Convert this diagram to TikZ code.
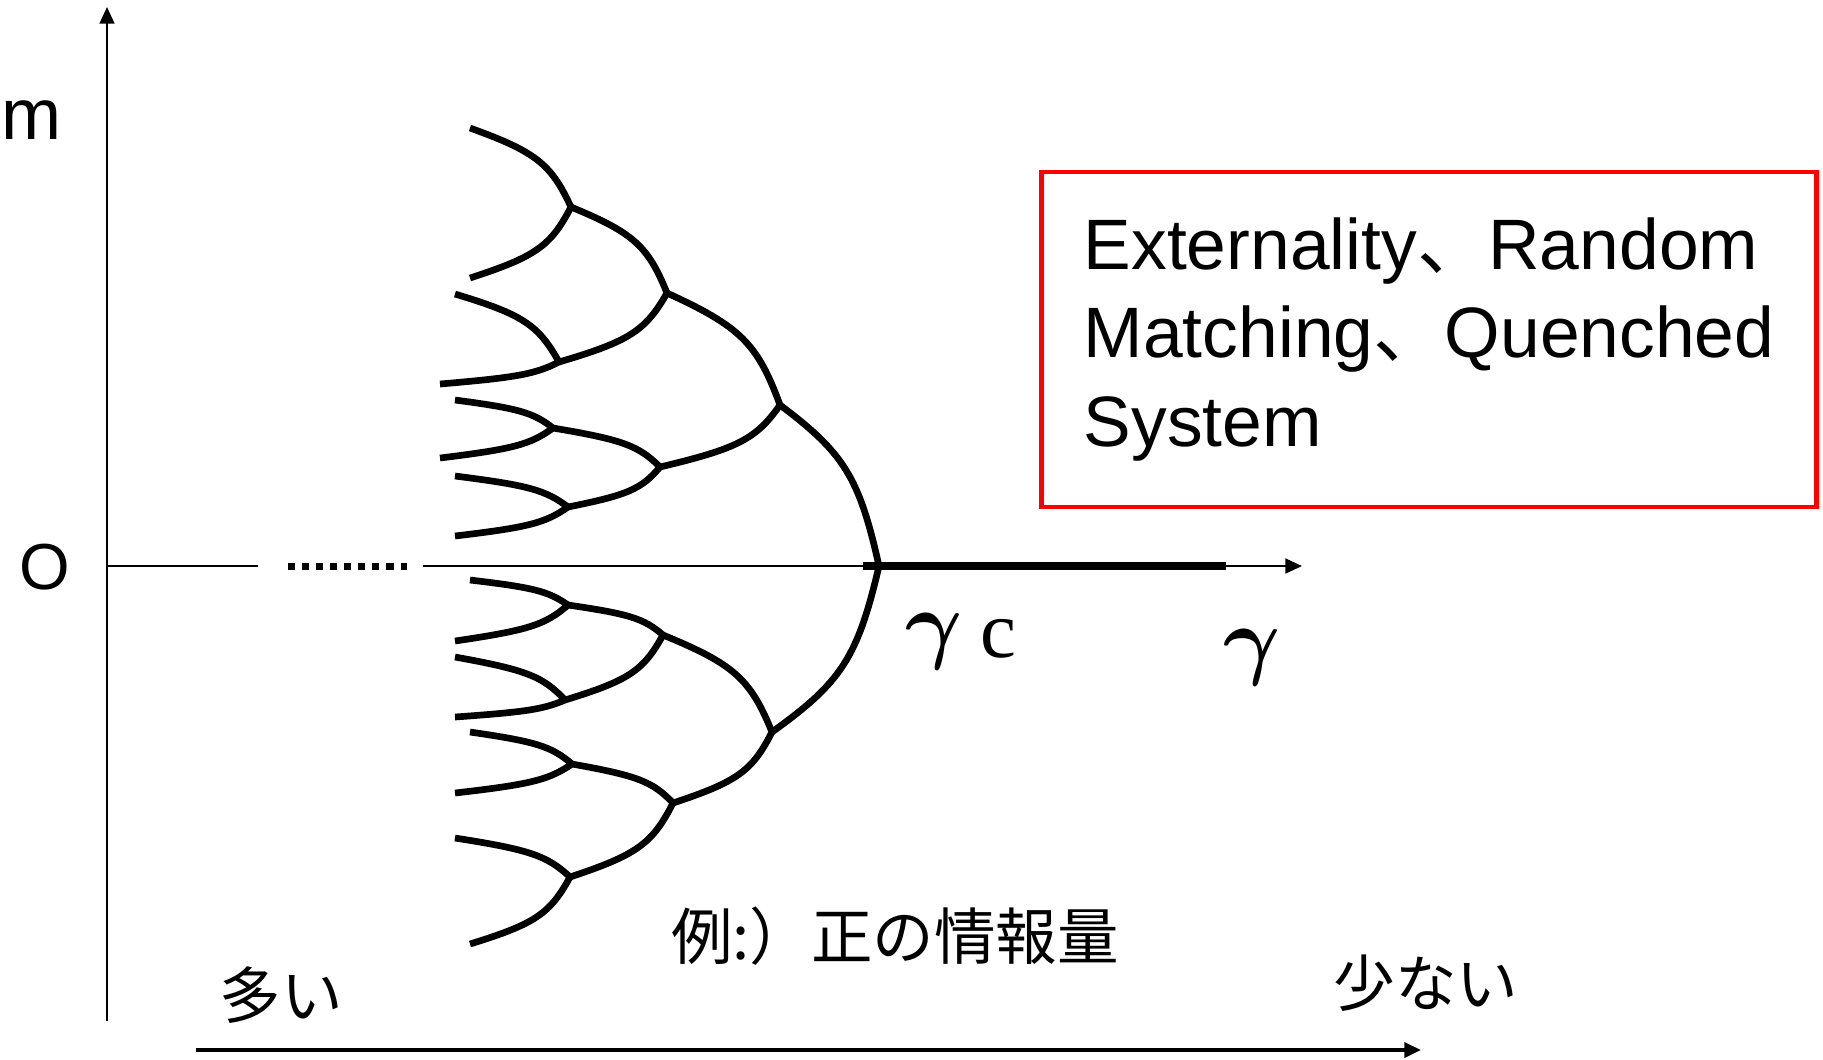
\documentclass[tikz,border=0pt]{standalone}
\usepackage{fontspec}
\setmainfont{Liberation Sans}
\newfontfamily\jpfont{Noto Sans CJK JP}
\newfontfamily\greekfont{Liberation Serif}
\usetikzlibrary{arrows.meta,calc}
\definecolor{boxRed}{RGB}{255,0,0}

\begin{document}
\begin{tikzpicture}[x=0.01cm,y=0.01cm,>={Triangle[length=4.7pt,width=4.2pt]},
 axisline/.style={line width=0.55pt},
 branch/.style={line width=1.9pt,to path={let \p1=(\tikztostart),\p2=(\tikztotarget) in
   .. controls ({\x1+0.65*(\x2-\x1)},{\y1+0.3*(\y2-\y1)}) and ({\x2-0.2*(\x2-\x1)},{\y2-0.55*(\y2-\y1)}) .. (\tikztotarget)}},
 axislabel/.style={inner sep=0pt,font=\fontsize{20.5pt}{24pt}\selectfont},
 greek/.style={inner sep=0pt,font=\fontsize{28pt}{30pt}\selectfont\boldmath},
 jp/.style={inner sep=0pt,font=\jpfont\fontsize{17.5pt}{21pt}\selectfont}]
\useasboundingbox (0,0) rectangle (1823,-1059);
% axes
\coordinate (origin) at (107,-566);
\coordinate (ytop) at (107,-7);
\coordinate (ybot) at (107,-1021);
\coordinate (xgap) at (258,-566);
\coordinate (dotl) at (288,-566);
\coordinate (dotr) at (407,-566);
\coordinate (xstart) at (423,-566);
\coordinate (xtip) at (1302,-566);
\coordinate (crit) at (863,-566);
\coordinate (gend) at (1226,-566);
\coordinate (infl) at (196,-1050);
\coordinate (infr) at (1421,-1050);
\draw[axisline,->] (ybot) -- (ytop);
\draw[axisline] (origin) -- (xgap);
\draw[line width=2pt,dash pattern=on 2pt off 2pt] (dotl) -- (dotr);
\draw[axisline,->] (xstart) -- (xtip);
\draw[line width=2.4pt] (crit) -- (gend);
\draw[line width=1.1pt,->] (infl) -- (infr);
\node[axislabel] (mlab) at (32,-120) {m};
\node[inner sep=0pt,font=\fontsize{18.5pt}{22pt}\selectfont] (olab) at (45,-567) {O};
\node[greek] (gammac) at (934,-642) {$\gamma$};
\node[inner sep=0pt,font=\greekfont\fontsize{23pt}{26pt}\selectfont,anchor=base west] (csub) at (980,-657) {c};
\node[greek] (gamma) at (1252,-658) {$\gamma$};
% tree
\coordinate (root) at (879,-566);
\coordinate (u) at (780,-405);
\coordinate (d) at (772,-732);
\coordinate (uu) at (667,-293);
\coordinate (ud) at (660,-467);
\coordinate (du) at (663,-635);
\coordinate (dd) at (673,-803);
\coordinate (uuu) at (571,-207);
\coordinate (uud) at (559,-362);
\coordinate (udu) at (553,-428);
\coordinate (udd) at (568,-507);
\coordinate (duu) at (568,-605);
\coordinate (dud) at (565,-700);
\coordinate (ddu) at (572,-764);
\coordinate (ddd) at (570,-877);
\coordinate (uuuu) at (470,-128);
\coordinate (uuud) at (470,-278);
\coordinate (uudu) at (455,-294);
\coordinate (uudd) at (440,-384);
\coordinate (uduu) at (455,-400);
\coordinate (udud) at (440,-458);
\coordinate (uddu) at (455,-476);
\coordinate (uddd) at (455,-536);
\coordinate (duuu) at (470,-580);
\coordinate (duud) at (455,-641);
\coordinate (dudu) at (455,-657);
\coordinate (dudd) at (455,-717);
\coordinate (dduu) at (470,-732);
\coordinate (ddud) at (455,-793);
\coordinate (dddu) at (455,-838);
\coordinate (dddd) at (470,-944);
\draw[branch] (u) to (root) (d) to (root);
\draw[branch] (uu) to (u) (ud) to (u) (du) to (d) (dd) to (d);
\draw[branch] (uuu) to (uu) (uud) to (uu) (udu) to (ud) (udd) to (ud);
\draw[branch] (duu) to (du) (dud) to (du) (ddu) to (dd) (ddd) to (dd);
\draw[branch] (uuuu) to (uuu) (uuud) to (uuu) (uudu) to (uud) (uudd) to (uud);
\draw[branch] (uduu) to (udu) (udud) to (udu) (uddu) to (udd) (uddd) to (udd);
\draw[branch] (duuu) to (duu) (duud) to (duu) (dudu) to (dud) (dudd) to (dud);
\draw[branch] (dduu) to (ddu) (ddud) to (ddu) (dddu) to (ddd) (dddd) to (ddd);
% texts
\node[draw=boxRed,line width=1.3pt,minimum width=7.74cm,minimum height=3.35cm,align=left,font=\fontsize{20.3pt}{25.3pt}\selectfont] (note) at (1429,-339.5) {Externality{\jpfont 、}Random\\Matching{\jpfont 、}Quenched\\System};
\node[jp] (example) at (895,-936) {例:）正の情報量};
\node[jp] (many) at (281,-995) {多い};
\node[jp] (few) at (1426,-983) {少ない};
\end{tikzpicture}
\end{document}
